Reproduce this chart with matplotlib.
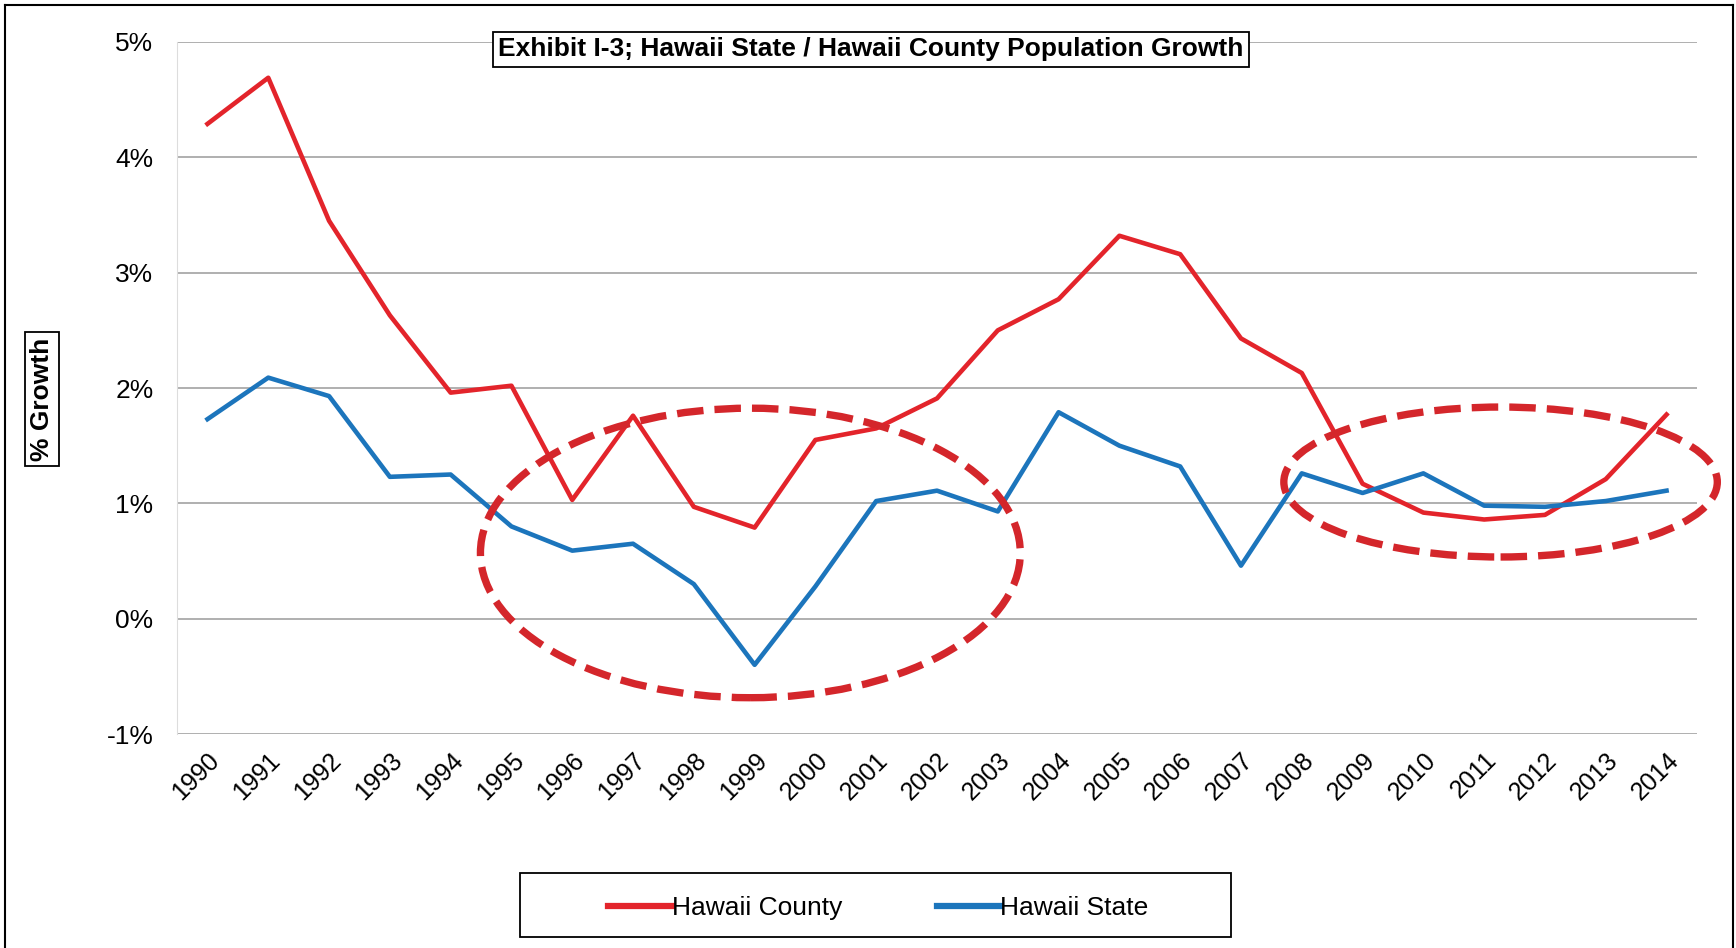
import matplotlib
matplotlib.use("Agg")
import matplotlib.pyplot as plt
from matplotlib.patches import Ellipse, Rectangle
from matplotlib.lines import Line2D
from matplotlib.ticker import FuncFormatter

plt.rcParams["font.family"] = ["Liberation Sans", "DejaVu Sans"]

years = [str(y) for y in range(1990, 2015)]
hawaii_county = [4.29, 4.69, 3.45, 2.63, 1.96, 2.02, 1.03, 1.76, 0.97, 0.79,
                 1.55, 1.65, 1.91, 2.50, 2.77, 3.32, 3.16, 2.43, 2.13, 1.17,
                 0.92, 0.86, 0.90, 1.21, 1.77]
hawaii_state = [1.73, 2.09, 1.93, 1.23, 1.25, 0.80, 0.59, 0.65, 0.30, -0.40,
                0.28, 1.02, 1.11, 0.93, 1.79, 1.50, 1.32, 0.46, 1.26, 1.09,
                1.26, 0.98, 0.97, 1.02, 1.11]
y_ticks = [-1, 0, 1, 2, 3, 4, 5]

RED = "#E3242B"
BLUE = "#1C75BC"
DASH_RED = "#D4262B"

fig = plt.figure(figsize=(17.36, 9.48), dpi=100)
ax = fig.add_axes([0.102, 0.2257, 0.8755, 0.73])

x = list(range(len(years)))
ax.plot(x, hawaii_county, color=RED, lw=3.3, label="Hawaii County", zorder=3)
ax.plot(x, hawaii_state, color=BLUE, lw=3.3, label="Hawaii State", zorder=3)

ax.set_xlim(-0.5, len(years) - 0.5)
ax.set_ylim(-1, 5)
ax.set_yticks(y_ticks)
ax.yaxis.set_major_formatter(FuncFormatter(lambda v, _: f"{v:.0f}%"))
ax.set_xticks(x)
ax.set_xticklabels(years, rotation=45, ha="right", rotation_mode="anchor", fontsize=18)
ax.tick_params(axis="y", labelsize=19, length=0, pad=17)
ax.tick_params(axis="x", length=0, pad=10)
ax.grid(axis="y", color="#9a9a9a", lw=1.1)
for s in ["top", "right", "bottom"]:
    ax.spines[s].set_visible(False)
ax.spines["left"].set_color("#dddddd")

# dashed highlight ellipses
for cx, cy, w, h in [(8.93, 0.57, 8.88, 2.51), (21.27, 1.185, 7.13, 1.30)]:
    e = Ellipse((cx, cy), w, h, fill=False, edgecolor=DASH_RED, lw=5.3,
                linestyle=(0, (3.6, 1.5)), clip_on=False, zorder=4)
    ax.add_patch(e)

fig.text(0.5017, 0.948, "Exhibit I-3; Hawaii State / Hawaii County Population Growth",
         ha="center", va="center", fontsize=19, fontweight="bold",
         bbox=dict(facecolor="white", edgecolor="black", boxstyle="square,pad=0.2", lw=1.3),
         zorder=10)
fig.text(0.0243, 0.579, "% Growth", rotation=90, ha="center", va="center",
         fontsize=19, fontweight="bold",
         bbox=dict(facecolor="white", edgecolor="black", boxstyle="square,pad=0.2", lw=1.3))

# legend box drawn separately so it can be wide
fig.add_artist(Rectangle((0.2995, 0.0116), 0.4095, 0.0675, transform=fig.transFigure,
                         facecolor="white", edgecolor="black", lw=1.3))
leg = fig.legend(loc="center", bbox_to_anchor=(0.506, 0.042), ncol=2, fontsize=19,
                 frameon=False, handlelength=2.4, handletextpad=0.0, columnspacing=3.6)
for h in leg.get_lines():
    h.set_linewidth(4.5)

# outer frame
for xs, ys in [([0.003, 0.003], [0.0, 0.995]), ([0.003, 0.998], [0.995, 0.995]),
               ([0.998, 0.998], [0.995, 0.0])]:
    fig.add_artist(Line2D(xs, ys, color="black", lw=1.5))

fig.savefig("out.png", dpi=100)
